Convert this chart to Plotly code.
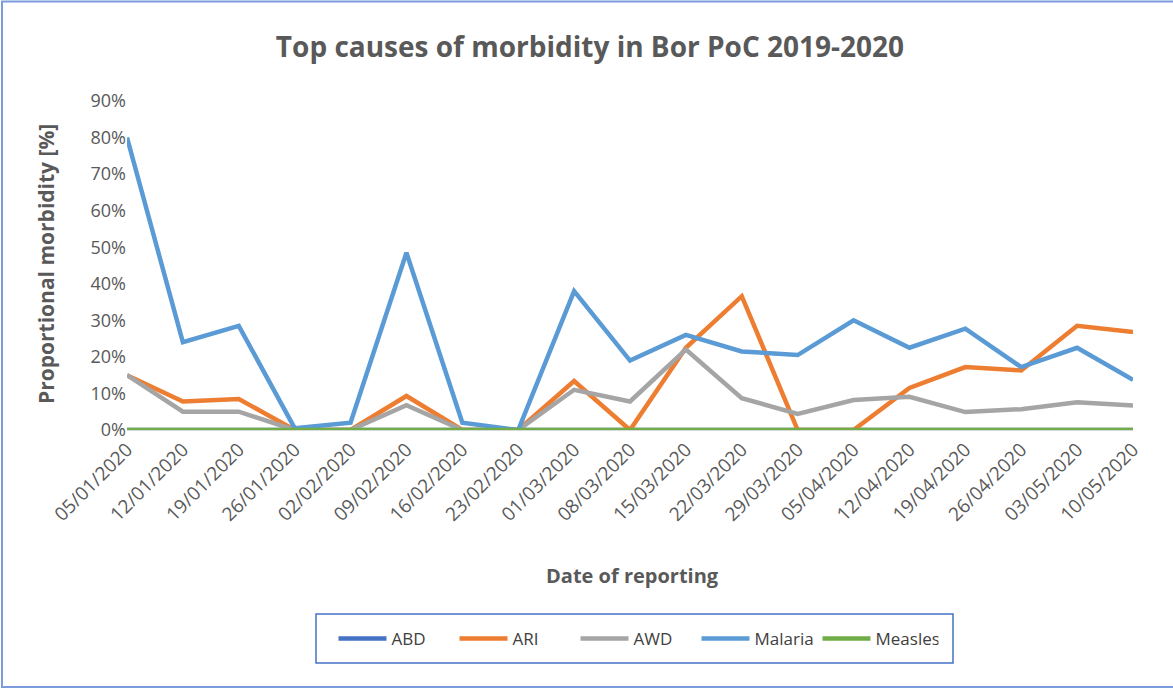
import plotly.graph_objects as go

dates = ["05/01/2020", "12/01/2020", "19/01/2020", "26/01/2020", "02/02/2020",
         "09/02/2020", "16/02/2020", "23/02/2020", "01/03/2020", "08/03/2020",
         "15/03/2020", "22/03/2020", "29/03/2020", "05/04/2020", "12/04/2020",
         "19/04/2020", "26/04/2020", "03/05/2020", "10/05/2020"]

abd = [0, 0, 0, 0, 0, 0, 0, 0, 0, 0, 0, 0, 0, 0, 0, 0, 0, 0, 0]
ari = [0.15, 0.078, 0.085, 0, 0, 0.093, 0, 0, 0.134, 0, 0.225, 0.366, 0, 0,
       0.115, 0.172, 0.163, 0.285, 0.268]
awd = [0.15, 0.05, 0.05, 0, 0, 0.068, 0, 0, 0.11, 0.078, 0.22, 0.087, 0.044,
       0.082, 0.091, 0.049, 0.057, 0.076, 0.067]
malaria = [0.80, 0.24, 0.285, 0.005, 0.02, 0.485, 0.02, 0, 0.38, 0.19, 0.26,
           0.215, 0.205, 0.30, 0.225, 0.277, 0.172, 0.225, 0.137]
measles = [0, 0, 0, 0, 0, 0, 0, 0, 0, 0, 0, 0, 0, 0, 0, 0, 0, 0, 0]

series = [("ABD", abd, "#4472C4"), ("ARI", ari, "#ED7D31"), ("AWD", awd, "#A5A5A5"),
          ("Malaria", malaria, "#5B9BD5"), ("Measles", measles, "#70AD47")]

x_idx = list(range(len(dates)))

fig = go.Figure()
for name, vals, color in series:
    fig.add_trace(go.Scatter(x=x_idx, y=vals, mode="lines", name=name,
                             line=dict(color=color, width=4.5)))

W, H = 1173, 688
ml, mr, mt, mb = 127, 40, 101, 258
pw, ph = W - ml - mr, H - mt - mb

def px(x):
    return (x - ml) / pw

def py(y):
    return (H - mb - y) / ph

gray = "#595959"
font_fam = "Open Sans, Liberation Sans, sans-serif"

fig.update_layout(
    width=W, height=H,
    margin=dict(l=ml, r=mr, t=mt, b=mb),
    paper_bgcolor="white", plot_bgcolor="white",
    font=dict(family=font_fam, color=gray),
    title=dict(text="<b>Top causes of morbidity in Bor PoC 2019-2020</b>",
               x=px(590), xref="paper", xanchor="center",
               y=1 - 47 / H, yanchor="middle",
               font=dict(size=28, color=gray, family=font_fam)),
    xaxis=dict(range=[0, 18], tickmode="array", tickvals=x_idx, ticktext=dates,
               tickangle=-45, showgrid=False, zeroline=False,
               showline=True, linecolor="#D9D9D9", ticks="",
               tickfont=dict(size=19, color=gray)),
    yaxis=dict(range=[0, 0.9], dtick=0.1, tickformat=".0%", showgrid=False,
               zeroline=False, showline=False, ticks="",
               tickfont=dict(size=18, color=gray)),
    showlegend=True,
    legend=dict(orientation="h", x=px(636), y=py(639), xanchor="center",
                yanchor="middle", borderwidth=0,
                font=dict(size=17, color="#404040"), itemwidth=48,
                entrywidth=58, entrywidthmode="pixels",
                bgcolor="rgba(0,0,0,0)"),
    annotations=[
        dict(text="<b>Date of reporting</b>", xref="paper", yref="paper",
             x=px(632), y=py(575), showarrow=False, xanchor="center",
             yanchor="middle", font=dict(size=20, color=gray)),
        dict(text="<b>Proportional morbidity [%]</b>", xref="paper", yref="paper",
             x=px(46), y=py(264), showarrow=False, xanchor="center",
             yanchor="middle", textangle=-90, font=dict(size=21, color=gray)),
    ],
    shapes=[
        dict(type="rect", xref="paper", yref="paper",
             x0=px(2), x1=px(1180), y0=py(687), y1=py(1.5),
             line=dict(color="#7C9BDB", width=2), fillcolor="rgba(0,0,0,0)",
             layer="below"),
        dict(type="rect", xref="paper", yref="paper",
             x0=px(316), x1=px(953), y0=py(663), y1=py(614),
             line=dict(color="#4472C4", width=1.5), fillcolor="rgba(0,0,0,0)",
             layer="below"),
    ],
)

fig.write_html("out.html", config={"displayModeBar": False},
               post_script="document.body.style.margin='0';document.body.style.overflow='hidden';")
